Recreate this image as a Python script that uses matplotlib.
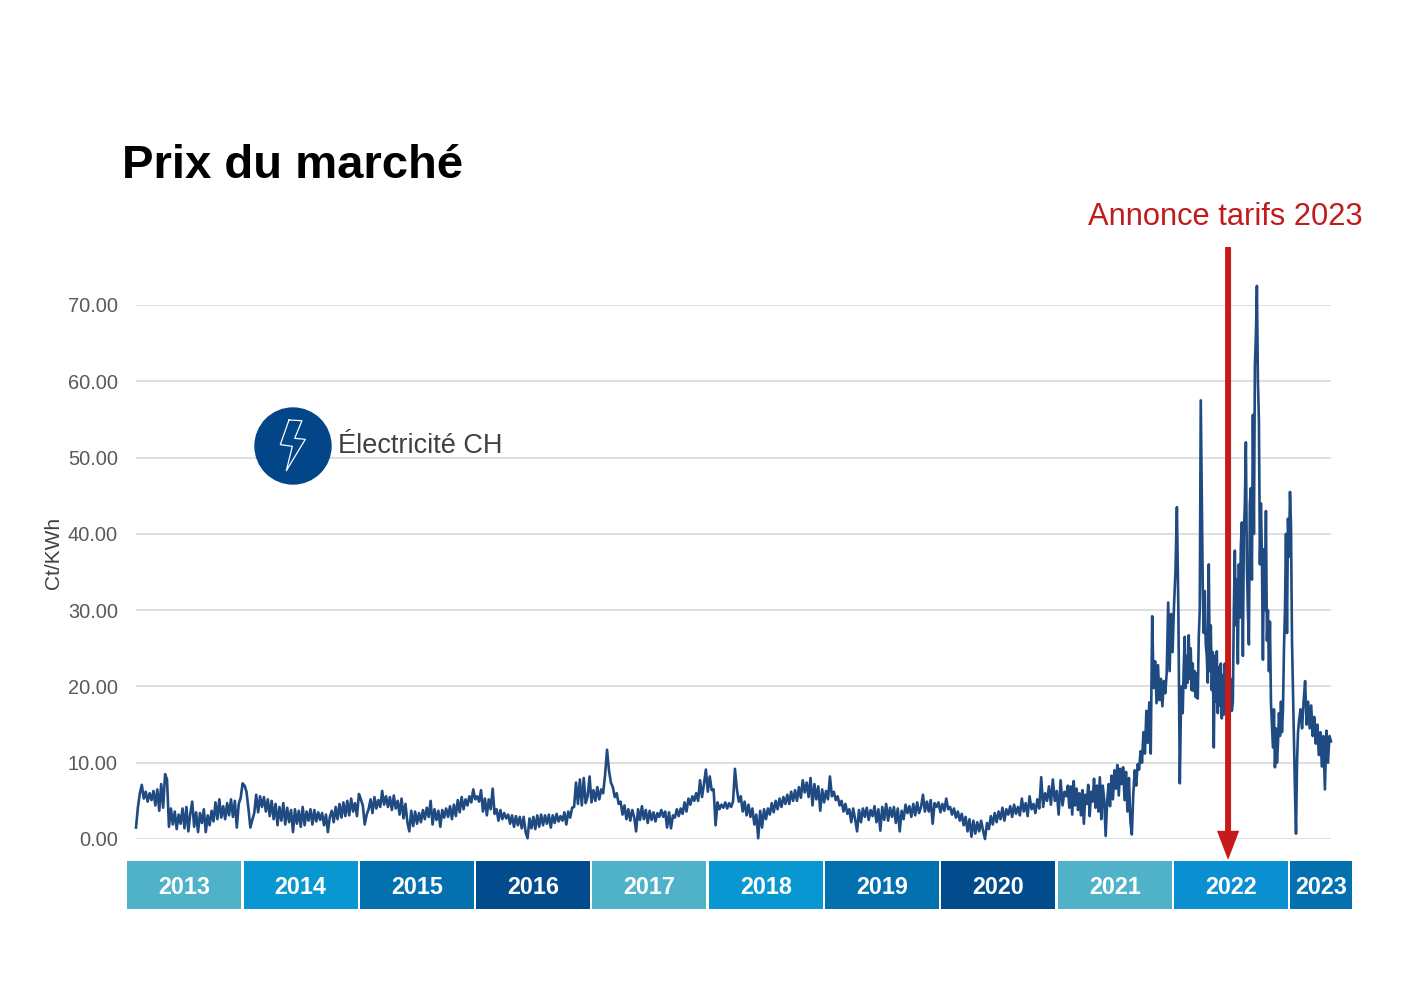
import numpy as np
import matplotlib
matplotlib.use("Agg")
import matplotlib.pyplot as plt
from matplotlib.patches import Circle

plt.rcParams["font.family"] = ["Liberation Sans", "DejaVu Sans"]

# values, Ct/KWh, evenly spaced inside each year
prices_2013 = [1.5, 4.2, 6.0, 7.1, 5.3, 6.2, 4.9, 6.0, 5.1, 6.3,
               4.4, 6.5, 3.7, 7.2, 4.1, 8.5, 7.8, 1.6, 4.0, 1.9,
               3.6, 1.3, 3.2, 2.0, 4.0, 1.4, 4.2, 1.0, 3.3, 4.9,
               1.6, 3.5, 0.9, 3.4, 2.1, 3.9, 0.9, 3.1, 1.8, 3.7,
               2.3, 4.8, 2.6, 5.2, 2.8, 4.3, 2.6, 4.7, 3.1, 5.2,
               2.9, 5.0, 1.5, 4.6, 5.4, 7.3, 7.0, 6.2, 4.0, 1.5]
prices_2014 = [2.5, 3.4, 5.8, 3.5, 5.6, 4.2, 5.5, 3.6, 5.2, 3.0,
               5.0, 2.6, 4.6, 1.8, 4.2, 2.4, 4.7, 1.9, 4.1, 2.2,
               3.8, 0.9, 3.9, 2.0, 3.7, 1.6, 4.2, 1.8, 3.6, 2.4,
               3.9, 1.9, 3.8, 2.3, 3.5, 2.5, 3.4, 1.8, 3.2, 0.9,
               2.9, 3.7, 2.2, 4.2, 2.6, 4.6, 2.8, 4.8, 3.0, 5.0,
               3.1, 5.3, 3.6, 4.7, 3.0, 5.9, 5.2, 4.4, 1.9, 3.2]
prices_2015 = [3.9, 5.2, 3.4, 5.5, 4.0, 5.1, 4.2, 6.3, 4.5, 5.6,
               4.2, 5.5, 3.8, 5.7, 4.0, 5.0, 3.2, 5.3, 2.7, 4.6,
               2.2, 1.0, 3.7, 1.7, 3.6, 2.0, 3.4, 2.2, 3.8, 2.6,
               4.1, 2.9, 5.0, 1.9, 3.9, 2.5, 3.7, 1.6, 3.8, 2.8,
               4.0, 2.9, 4.3, 2.6, 4.5, 3.0, 5.1, 3.5, 5.5, 3.9,
               5.2, 4.4, 5.6, 4.8, 6.5, 5.2, 5.6, 4.9, 6.4, 3.6]
prices_2016 = [5.3, 3.1, 5.2, 3.9, 6.6, 3.3, 3.9, 2.4, 3.8, 2.6,
               3.4, 2.7, 3.2, 2.0, 3.1, 1.6, 3.0, 1.8, 2.9, 1.4,
               2.9, 0.9, 0.1, 2.7, 1.4, 2.9, 1.3, 3.1, 1.6, 3.2,
               1.8, 3.1, 2.0, 3.2, 1.5, 3.1, 2.1, 3.3, 2.3, 3.0,
               2.4, 3.5, 1.9, 3.6, 2.8, 4.1, 4.2, 7.4, 4.6, 7.8,
               4.4, 8.0, 4.7, 5.6, 8.2, 4.8, 6.4, 5.0, 6.8, 5.2]
prices_2017 = [6.5, 6.0, 8.4, 11.7, 9.0, 7.4, 6.8, 5.5, 6.0, 4.6,
               4.9, 3.2, 4.4, 2.6, 3.9, 2.4, 3.8, 2.9, 1.0, 3.9,
               2.5, 4.3, 2.6, 3.8, 2.1, 3.7, 2.5, 3.5, 2.3, 3.4,
               2.9, 3.8, 2.9, 3.6, 1.5, 3.5, 1.4, 3.1, 2.8, 3.9,
               3.0, 4.0, 3.3, 4.8, 3.6, 5.3, 4.5, 5.6, 5.0, 6.0,
               5.0, 7.7, 5.5, 7.2, 9.1, 6.2, 8.2, 6.4, 6.5, 1.8]
prices_2018 = [4.8, 3.9, 4.5, 4.1, 4.8, 4.0, 4.7, 4.2, 4.9, 9.2,
               6.5, 4.9, 5.6, 3.6, 4.9, 3.1, 4.5, 2.9, 4.0, 1.9,
               3.2, 0.1, 3.7, 1.5, 3.9, 2.6, 4.0, 3.2, 4.7, 3.5,
               5.0, 3.9, 5.3, 4.2, 5.5, 4.6, 5.8, 4.6, 6.2, 5.0,
               6.4, 5.0, 6.8, 5.4, 7.7, 6.1, 7.4, 5.5, 8.0, 4.4,
               7.2, 5.2, 6.9, 3.7, 6.5, 4.8, 6.3, 5.2, 8.2, 5.6]
prices_2019 = [6.2, 5.1, 5.6, 4.4, 5.0, 3.6, 4.6, 3.3, 3.9, 2.2,
               4.0, 2.6, 1.0, 3.8, 2.2, 4.0, 2.9, 4.1, 2.5, 3.8,
               3.0, 4.3, 2.2, 3.9, 1.1, 4.2, 2.5, 4.6, 2.4, 4.1,
               2.9, 4.2, 2.1, 4.0, 1.0, 3.7, 2.6, 4.5, 3.4, 4.3,
               2.9, 4.6, 3.1, 4.8, 3.4, 4.2, 5.8, 3.6, 4.9, 3.6,
               5.1, 2.0, 4.7, 4.2, 4.8, 3.5, 4.6, 3.7, 5.3, 3.9]
prices_2020 = [4.2, 3.2, 4.0, 2.8, 3.6, 2.4, 3.3, 1.8, 2.9, 1.0,
               2.6, 0.3, 2.4, 0.7, 2.2, 1.0, 2.4, 1.1, 0.0, 2.1,
               1.3, 3.0, 1.9, 3.4, 2.2, 3.6, 2.6, 4.1, 2.4, 3.9,
               3.2, 4.3, 2.9, 4.5, 3.3, 4.2, 3.1, 5.3, 3.6, 4.7,
               3.0, 5.6, 3.9, 4.6, 3.4, 5.2, 4.0, 8.1, 4.2, 6.0,
               5.0, 6.9, 4.5, 7.8, 5.0, 6.3, 3.2, 7.7, 4.4, 6.2]
prices_2021 = [5.6, 7.0, 4.1, 6.9, 3.2, 7.6, 4.4, 6.6, 3.8, 6.0,
               3.1, 6.4, 2.0, 5.8, 4.6, 7.1, 3.0, 6.2, 4.9, 7.9,
               4.1, 7.0, 3.6, 8.1, 2.6, 7.0, 5.1, 0.4, 4.9, 7.2,
               4.3, 8.3, 5.2, 9.0, 6.6, 9.7, 5.7, 9.2, 7.2, 9.4,
               5.1, 8.8, 3.6, 8.0, 2.3, 0.6, 5.9, 9.0, 7.0, 9.8,
               9.1, 11.5, 10.0, 14.0, 11.2, 16.8, 12.6, 17.9, 11.2, 29.2,
               19.8, 23.3, 17.8, 22.8, 18.2, 21.0, 17.4, 20.7, 19.1, 21.8,
               31.0, 22.0, 29.5, 24.5, 30.5, 35.0, 43.5, 30.2, 7.3, 20.0]
prices_2022 = [16.5, 22.5, 26.5, 19.8, 24.0, 20.5, 26.7, 21.0, 25.0, 19.5,
               23.0, 19.4, 22.0, 18.6, 21.7, 18.4, 26.4, 30.0, 57.5, 45.0,
               33.0, 27.0, 32.5, 25.5, 24.0, 20.5, 36.0, 22.0, 28.0, 19.5,
               24.5, 12.0, 24.0, 18.0, 24.6, 16.5, 22.5, 17.5, 23.0, 15.8,
               21.5, 16.3, 23.0, 17.0, 22.0, 16.5, 21.5, 17.0, 21.0, 16.8,
               18.0, 30.0, 37.8, 28.0, 34.0, 23.0, 36.0, 29.0, 38.5, 41.5,
               24.0, 40.0, 44.0, 52.0, 36.0, 30.0, 25.5, 44.0, 46.0, 34.0,
               55.6, 40.0, 62.0, 66.0, 72.5, 60.0, 55.0, 36.0, 44.0, 37.0,
               23.5, 38.0, 30.0, 43.0, 26.0, 30.0, 22.0, 28.5, 18.0, 15.0,
               12.0, 17.0, 9.4, 14.5, 10.0, 12.5, 16.5, 13.5, 18.0, 14.0,
               17.0, 25.0, 30.0, 40.0, 27.0, 42.0, 37.0, 45.5, 41.0, 26.0,
               19.4, 13.0, 6.0, 0.7, 10.0, 14.0]
prices_2023 = [15.5, 17.0, 14.5, 18.0, 20.7, 15.0, 18.0, 14.5, 17.5, 13.5, 16.0,
               12.5, 15.0, 11.0, 14.0, 9.5, 13.5, 6.5, 14.2, 10.0, 13.5, 12.8]

years = [2013, 2014, 2015, 2016, 2017, 2018, 2019, 2020, 2021, 2022, 2023]
year_widths = [0.98] * 10 + [0.533]
year_colors = ["#4fb2c8", "#0897d0", "#0370b0", "#024b8c"] * 2 + ["#4fb2c8", "#0a8fd0", "#0370b0"]
yticks = [0, 10, 20, 30, 40, 50, 60, 70]
announce_x = 2022.39
end_x = 2023.275

W, H = 1415, 998
fig = plt.figure(figsize=(W / 100, H / 100), dpi=100, facecolor="white")
ax = fig.add_axes([136 / W, 1 - 839 / H, 1195 / W, 534 / H])

all_prices = [prices_2013, prices_2014, prices_2015, prices_2016, prices_2017, prices_2018,
              prices_2019, prices_2020, prices_2021, prices_2022, prices_2023]
xs, ys = [], []
for year, vals in zip(years, all_prices):
    stop = end_x if year == 2023 else year + 1
    xs.append(np.linspace(year, stop, len(vals), endpoint=year == 2023))
    ys.append(vals)
ax.plot(np.concatenate(xs), np.concatenate(ys), color="#1f4a82", lw=1.9, clip_on=False, zorder=3)

ax.set_xlim(2013, end_x)
ax.set_ylim(0, 70)
ax.set_xticks([])
ax.set_yticks(yticks)
ax.set_yticklabels([f"{v:.2f}" for v in yticks], fontsize=14.4, color="#595959")
ax.tick_params(axis="y", length=0, pad=13)
ax.grid(axis="y", color="#dcdcdc", lw=1.3)
ax.set_axisbelow(True)
for spine in ax.spines.values():
    spine.set_visible(False)
ax.set_ylabel("Ct/KWh", fontsize=15, color="#404040")
ax.yaxis.set_label_coords(-0.061, 0.536)

# year strip under the axis
lefts = np.array(years) - 0.075
ax.bar(lefts, [6.3] * len(years), width=year_widths, bottom=-9.2, align="edge",
       color=year_colors, clip_on=False, zorder=2)
for left, width, year in zip(lefts, year_widths, years):
    ax.text(left + width / 2, -6.3, str(year), color="white", fontsize=16.8, fontweight="bold",
            ha="center", va="center", clip_on=False)

ax.annotate("", xy=(announce_x, -2.75), xytext=(announce_x, 77.6), annotation_clip=False, zorder=5,
            arrowprops=dict(width=4.3, headwidth=16, headlength=21, shrink=0,
                            facecolor="#c8191b", edgecolor="#c8191b", lw=0))

fig.text(122 / W, 1 - 178 / H, "Prix du marché", fontsize=34, fontweight="bold", color="black")
fig.text(1088 / W, 1 - 225 / H, "Annonce tarifs 2023", fontsize=22.2, color="#c01c1c")
fig.text(338 / W, 1 - 453 / H, "Électricité CH", fontsize=19.5, color="#404040")

# lightning icon
icon = fig.add_axes([255 / W, 1 - 484 / H, 76 / W, 76 / H])
icon.set_xlim(0, 1)
icon.set_ylim(0, 1)
icon.axis("off")
icon.add_patch(Circle((0.5, 0.5), 0.5, color="#034589", clip_on=False))
bolt_u = [0.447, 0.618, 0.522, 0.662, 0.412, 0.491, 0.333, 0.447]
bolt_v = [0.842, 0.833, 0.601, 0.588, 0.175, 0.496, 0.518, 0.842]
icon.plot(bolt_u, bolt_v, color="white", lw=0.9)

fig.savefig("out.png", dpi=100)
